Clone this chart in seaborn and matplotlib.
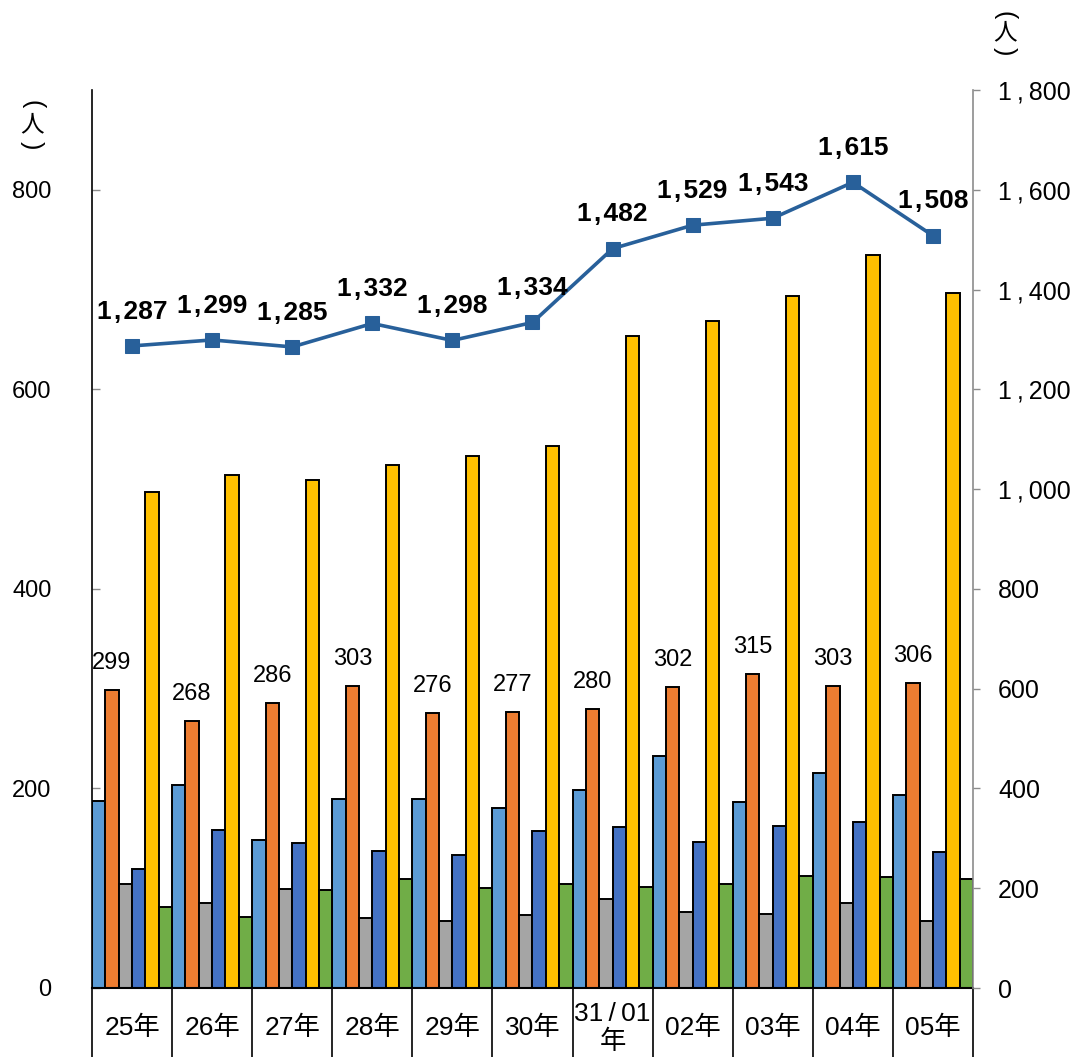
import numpy as np
import pandas as pd
import matplotlib
matplotlib.use("Agg")
import matplotlib.pyplot as plt
import matplotlib.transforms as mtransforms
import seaborn as sns

# ---------------- data ----------------
years = ["25年", "26年", "27年", "28年", "29年", "30年", "31\u2009/\u200901\n年",
         "02年", "03年", "04年", "05年"]
series_names = ["区分1", "区分2", "区分3", "区分4", "区分5", "区分6"]
light_blue = [187, 203, 148, 189, 189, 180, 198, 233, 186, 215, 193]
orange = [299, 268, 286, 303, 276, 277, 280, 302, 315, 303, 306]
gray = [104, 85, 99, 70, 67, 73, 89, 76, 74, 85, 67]
dark_blue = [119, 158, 145, 137, 133, 157, 161, 146, 162, 166, 136]
yellow = [497, 514, 509, 524, 533, 543, 653, 668, 694, 735, 697]
green = [81, 71, 98, 109, 100, 104, 101, 104, 112, 111, 109]
totals = [1287, 1299, 1285, 1332, 1298, 1334, 1482, 1529, 1543, 1615, 1508]
left_ticks = [0, 200, 400, 600, 800]
right_ticks = [0, 200, 400, 600, 800, 1000, 1200, 1400, 1600, 1800]

colors = ["#5B9BD5", "#ED7D31", "#A5A5A5", "#4472C4", "#FFC000", "#70AD47"]
line_color = "#28609A"

series_values = [light_blue, orange, gray, dark_blue, yellow, green]
rows = []
for name, vals in zip(series_names, series_values):
    for y, v in zip(years, vals):
        rows.append({"year": y, "series": name, "count": v})
df = pd.DataFrame(rows)

sns.set_style("white")
plt.rcParams["font.family"] = ["Liberation Sans", "Noto Sans CJK JP", "DejaVu Sans"]
plt.rcParams["text.color"] = "black"
plt.rcParams["xtick.color"] = "black"
plt.rcParams["ytick.color"] = "black"


def fmt(v, sep):
    return f"{v:,}".replace(",", sep + "," + sep)


W, H = 1082, 1057
fig = plt.figure(figsize=(W / 100, H / 100), dpi=100)
ax = fig.add_axes([92 / W, 1 - 988 / H, (973 - 92) / W, (988 - 90) / H])

sns.barplot(data=df, x="year", y="count", hue="series", order=years,
            hue_order=series_names, palette=colors, saturation=1,
            width=1.0, edgecolor="black", linewidth=1.4, ax=ax, legend=False)

ax.set_xlim(-0.5, len(years) - 0.5)
ax.set_ylim(0, 900)
ax.set_yticks(left_ticks)
ax.set_yticklabels([str(t) for t in left_ticks])
ax.set_xlabel("")
ax.set_ylabel("")
ax.tick_params(axis="y", direction="in", length=6, width=1, color="#8c8c8c",
               pad=29, labelsize=17, labelcolor="black")
ax.tick_params(axis="x", length=0, labelbottom=False)
for s in ["top", "right"]:
    ax.spines[s].set_visible(False)
ax.spines["left"].set_color("black")
ax.spines["left"].set_linewidth(1.2)
ax.spines["bottom"].set_color("black")
ax.spines["bottom"].set_linewidth(1.5)

# orange bar value labels
ax.bar_label(ax.containers[1], labels=[str(v) for v in orange], padding=11,
             fontsize=17, color="black")

# category labels and separators below axis
trans = mtransforms.blended_transform_factory(ax.transData, ax.transAxes)
for i, lab in enumerate(years):
    ax.text(i, -0.0445, lab, transform=trans, ha="center", va="center",
            fontsize=19, linespacing=1.2, color="black")
ax.vlines(np.arange(-0.5, len(years)), -0.1, 0, transform=trans,
          color="black", linewidth=1.2, clip_on=False)

# line on secondary axis
ax2 = ax.twinx()
sns.lineplot(x=np.arange(len(years)), y=totals, ax=ax2, color=line_color,
             marker="s", markersize=10, markeredgecolor=line_color,
             linewidth=2.6)
ax2.set_ylim(0, 1800)
ax2.set_yticks(right_ticks)
ax2.set_yticklabels([fmt(t, "\u2009") for t in right_ticks])
ax2.set_ylabel("")
ax2.tick_params(axis="y", direction="out", length=5, width=1, color="#8c8c8c",
                pad=13, labelsize=18, labelcolor="black")
for s in ["top", "left", "bottom"]:
    ax2.spines[s].set_visible(False)
ax2.spines["right"].set_color("#8c8c8c")
ax2.spines["right"].set_linewidth(1.2)
ax2.set_xlim(-0.5, len(years) - 0.5)

for i, v in enumerate(totals):
    ax2.annotate(fmt(v, "\u200a"), (i, v), xytext=(0, 16),
                 textcoords="offset points", ha="center", va="bottom",
                 fontsize=19, fontweight="bold", color="black")

# unit labels (vertical "（人）")
for (xc, ys) in [(32, (104, 125, 145)), (1005, (15, 33, 51))]:
    fig.text(xc / W, 1 - ys[0] / H, "(", ha="center", va="center",
             rotation=-90, fontsize=18, family=["Liberation Sans"])
    fig.text(xc / W, 1 - ys[1] / H, "人", ha="center", va="center",
             fontsize=17, family=["Noto Sans CJK JP"])
    fig.text(xc / W, 1 - ys[2] / H, ")", ha="center", va="center",
             rotation=-90, fontsize=18, family=["Liberation Sans"])

fig.savefig("out.png", dpi=100)
